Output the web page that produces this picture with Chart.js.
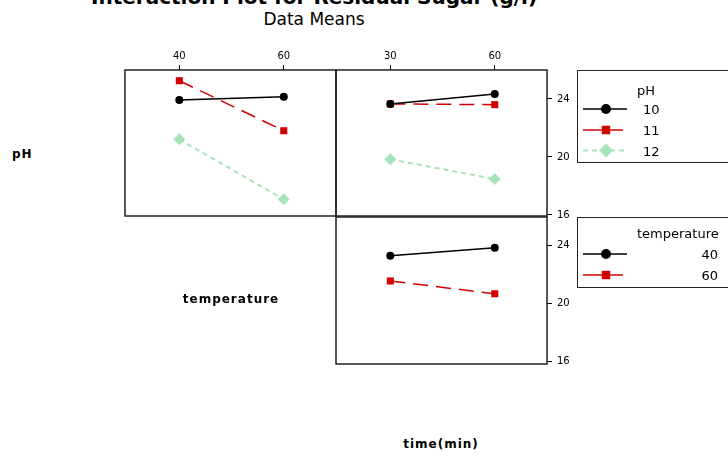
<!DOCTYPE html>
<html lang="en">
<head>
    <meta charset="UTF-8">
    <title>Interaction Plot for Residual Sugar (g/l)</title>
    <script src="https://cdn.jsdelivr.net/npm/chart.js"></script>
    <style>
        body, html {
            margin: 0;
            padding: 0;
            width: 728px;
            height: 457px;
            overflow: hidden;
            background-color: #ffffff;
            font-family: 'DejaVu Sans', sans-serif;
            color: #000;
        }
        .page {
            position: relative;
            width: 728px;
            height: 457px;
        }
        .abs {
            position: absolute;
            white-space: nowrap;
        }
        .title {
            left: 0;
            width: 628px;
            top: -13px;
            text-align: center;
            font-size: 20px;
            line-height: 20px;
            font-weight: bold;
        }
        .subtitle {
            left: 0;
            width: 628px;
            top: 11px;
            text-align: center;
            font-size: 17px;
            line-height: 17px;
        }
        .factor {
            font-size: 12px;
            line-height: 12px;
            font-weight: bold;
            letter-spacing: 1px;
        }
        .legend-box {
            position: absolute;
            left: 577px;
            width: 200px;
            border: 1px solid #222;
            box-sizing: border-box;
        }
        .legend-text {
            font-size: 13px;
            line-height: 13px;
        }
    </style>
</head>
<body>
<div class="page">
    <div class="abs title">Interaction Plot for Residual Sugar (g/l)</div>
    <div class="abs subtitle">Data Means</div>

    <canvas id="phTemp" class="abs" width="241" height="186" style="left:110px; top:45px;"></canvas>
    <canvas id="phTime" class="abs" width="266" height="186" style="left:321px; top:45px;"></canvas>
    <canvas id="tempTime" class="abs" width="266" height="177" style="left:321px; top:202px;"></canvas>

    <div class="abs factor" style="left:12px; top:148px;">pH</div>
    <div class="abs factor" style="left:131px; width:200px; top:293px; text-align:center;">temperature</div>
    <div class="abs factor" style="left:341px; width:200px; top:438px; text-align:center;">time(min)</div>

    <!-- legends -->
    <div class="legend-box" style="top:70px; height:93px;"></div>
    <canvas id="legendPh" class="abs" width="151" height="93" style="left:577px; top:70px;"></canvas>
    <div class="abs legend-text" style="left:637px; top:84px;">pH</div>
    <div id="phRows"></div>

    <div class="legend-box" style="top:217px; height:71px;"></div>
    <canvas id="legendTemp" class="abs" width="151" height="71" style="left:577px; top:217px;"></canvas>
    <div class="abs legend-text" style="left:637px; top:227px;">temperature</div>
    <div id="tempRows"></div>
</div>

<script>
    // factor levels
    const phLevels = ['10', '11', '12'];
    const tempLevels = [40, 60];
    const timeLevels = [30, 60];
    const yTicks = [16, 20, 24];

    // means of residual sugar, pH x temperature
    const ph10ByTemp = [23.93, 24.16];
    const ph11ByTemp = [25.26, 21.81];
    const ph12ByTemp = [21.22, 17.08];

    // pH x time
    const ph10ByTime = [23.66, 24.34];
    const ph11ByTime = [23.66, 23.61];
    const ph12ByTime = [19.84, 18.48];

    // temperature x time
    const temp40ByTime = [23.26, 23.81];
    const temp60ByTime = [21.52, 20.64];

    // line styles per level (first, second, third)
    const styles = [
        { color: '#000000', dash: [], width: 1.5, point: 'circle', radius: 4 },
        { color: '#d00000', dash: [15, 8], width: 1.5, point: 'rect', radius: 5 },
        { color: '#a8e4bb', dash: [5, 4], width: 2, point: 'rectRot', radius: 6 }
    ];

    function makeDataset(label, xs, ys, st) {
        return {
            label: label,
            data: xs.map((x, i) => ({ x: x, y: ys[i] })),
            borderColor: st.color,
            backgroundColor: st.color,
            borderWidth: st.width,
            borderDash: st.dash,
            pointStyle: st.point,
            pointRadius: st.radius,
            pointBorderWidth: 0,
            pointBackgroundColor: st.color,
            fill: false,
            tension: 0
        };
    }

    // draw the box around each panel
    const framePlugin = {
        id: 'frame',
        afterDraw(chart) {
            const { ctx, chartArea: a } = chart;
            ctx.save();
            ctx.strokeStyle = '#222';
            ctx.lineWidth = 1.5;
            ctx.strokeRect(a.left, a.top, a.right - a.left, a.bottom - a.top);
            ctx.restore();
        }
    };

    function panel(id, levels, datasets, opts) {
        const span = levels[1] - levels[0];
        new Chart(document.getElementById(id), {
            type: 'line',
            data: { datasets: datasets },
            options: {
                responsive: false,
                animation: false,
                events: [],
                layout: { padding: { left: 15, right: 15, top: opts.showX ? 0 : 15, bottom: 15 } },
                plugins: { legend: { display: false }, tooltip: { enabled: false } },
                scales: {
                    x: {
                        type: 'linear',
                        position: 'top',
                        display: opts.showX,
                        min: levels[0] - span * 0.52,
                        max: levels[1] + span * 0.5,
                        afterBuildTicks: s => { s.ticks = levels.map(v => ({ value: v })); },
                        afterFit: s => { s.height = opts.showX ? 25 : 0; },
                        ticks: { color: '#000', padding: 3, maxRotation: 0, font: { family: 'DejaVu Sans', size: 10 } },
                        grid: { drawOnChartArea: false, drawTicks: true, tickLength: 5, color: '#000' },
                        border: { display: false }
                    },
                    y: {
                        type: 'linear',
                        position: 'right',
                        display: opts.showY,
                        min: opts.yMin,
                        max: opts.yMax,
                        afterBuildTicks: s => { s.ticks = yTicks.map(v => ({ value: v })); },
                        afterFit: s => { s.width = opts.showY ? 25 : 0; },
                        ticks: { color: '#000', padding: 5, font: { family: 'DejaVu Sans', size: 10 } },
                        grid: { drawOnChartArea: false, drawTicks: true, tickLength: 5, color: '#000' },
                        border: { display: false }
                    }
                }
            },
            plugins: [framePlugin]
        });
    }

    panel('phTemp', tempLevels, [
        makeDataset(phLevels[0], tempLevels, ph10ByTemp, styles[0]),
        makeDataset(phLevels[1], tempLevels, ph11ByTemp, styles[1]),
        makeDataset(phLevels[2], tempLevels, ph12ByTemp, styles[2])
    ], { showX: true, showY: false, yMin: 15.93, yMax: 26.0 });

    panel('phTime', timeLevels, [
        makeDataset(phLevels[0], timeLevels, ph10ByTime, styles[0]),
        makeDataset(phLevels[1], timeLevels, ph11ByTime, styles[1]),
        makeDataset(phLevels[2], timeLevels, ph12ByTime, styles[2])
    ], { showX: true, showY: true, yMin: 15.93, yMax: 26.0 });

    panel('tempTime', timeLevels, [
        makeDataset(String(tempLevels[0]), timeLevels, temp40ByTime, styles[0]),
        makeDataset(String(tempLevels[1]), timeLevels, temp60ByTime, styles[1])
    ], { showX: false, showY: true, yMin: 15.8, yMax: 25.93 });

    // legend symbols
    function drawMarker(ctx, st, x, y) {
        const r = st.radius + 1;
        ctx.fillStyle = st.color;
        ctx.beginPath();
        if (st.point === 'circle') {
            ctx.arc(x, y, r, 0, Math.PI * 2);
        } else if (st.point === 'rect') {
            const h = r * Math.SQRT1_2;
            ctx.rect(x - h, y - h, 2 * h, 2 * h);
        } else {
            ctx.moveTo(x, y - r); ctx.lineTo(x + r, y); ctx.lineTo(x, y + r); ctx.lineTo(x - r, y);
            ctx.closePath();
        }
        ctx.fill();
    }

    function drawLegend(canvasId, rowsId, labels, rowYs, topOffset, alignRight) {
        const ctx = document.getElementById(canvasId).getContext('2d');
        const rows = document.getElementById(rowsId);
        labels.forEach((lab, i) => {
            const st = styles[i];
            const y = rowYs[i];
            ctx.save();
            ctx.strokeStyle = st.color;
            ctx.lineWidth = st.width;
            ctx.setLineDash(i === 2 ? st.dash : []);
            ctx.beginPath();
            ctx.moveTo(6, y);
            ctx.lineTo(i === 1 ? 46 : 50, y);
            ctx.stroke();
            ctx.restore();
            drawMarker(ctx, st, 29, y);

            const d = document.createElement('div');
            d.className = 'abs legend-text';
            d.textContent = lab;
            d.style.top = (topOffset + y - 6) + 'px';
            if (alignRight) {
                d.style.left = '618px';
                d.style.width = '100px';
                d.style.textAlign = 'right';
            } else {
                d.style.left = '643px';
            }
            rows.appendChild(d);
        });
    }

    drawLegend('legendPh', 'phRows', phLevels, [39, 60, 80.5], 70, false);
    drawLegend('legendTemp', 'tempRows', tempLevels.map(String), [37, 58], 217, true);
</script>
</body>
</html>
